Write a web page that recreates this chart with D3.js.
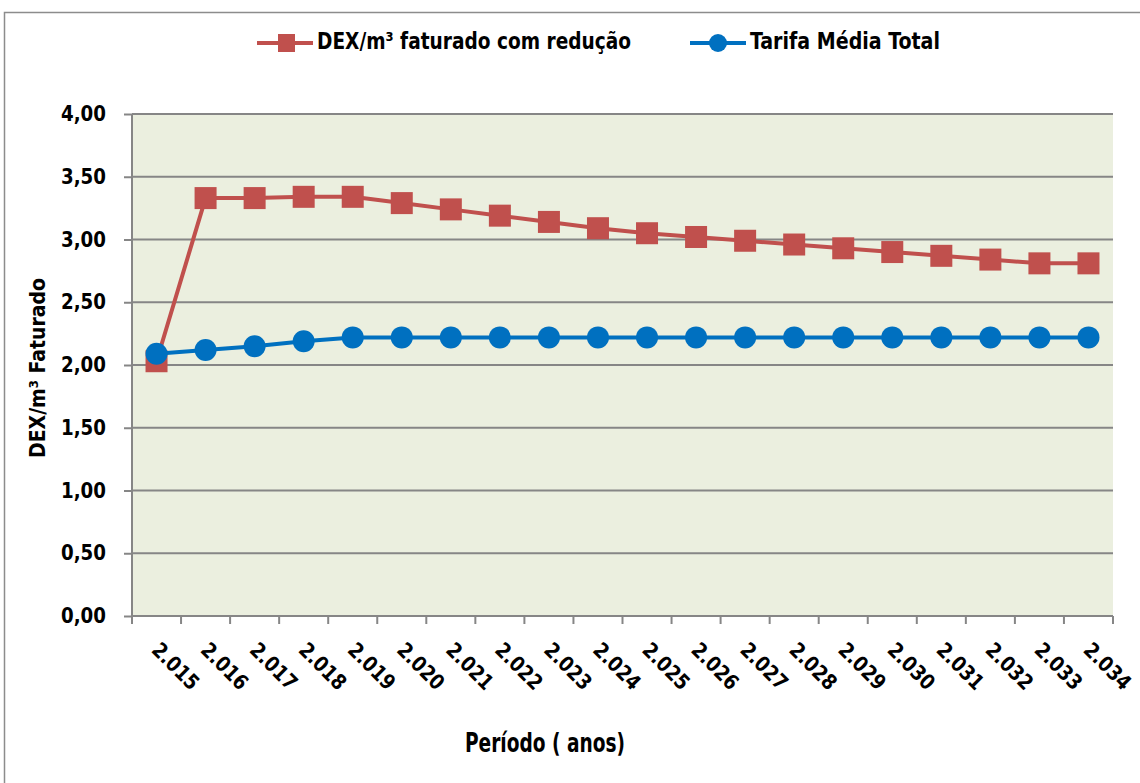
<!DOCTYPE html>
<html>
<head>
<meta charset="utf-8">
<script src="https://cdn.jsdelivr.net/npm/d3@7"></script>
<style>
  body { margin: 0; background: #fff; }
  text { font-family: "Liberation Sans Narrow", "DejaVu Sans Condensed", "Roboto", sans-serif; font-weight: bold; fill: #000; }
</style>
</head>
<body>
<div id="chart"></div>
<script>
// data
var years = ["2.015","2.016","2.017","2.018","2.019","2.020","2.021","2.022","2.023","2.024",
             "2.025","2.026","2.027","2.028","2.029","2.030","2.031","2.032","2.033","2.034"];
var dexValues = [2.03, 3.33, 3.33, 3.34, 3.34, 3.29, 3.24, 3.19, 3.14, 3.09,
                 3.05, 3.02, 2.99, 2.96, 2.93, 2.90, 2.87, 2.84, 2.81, 2.81];
var tarifaValues = [2.09, 2.12, 2.15, 2.19, 2.22, 2.22, 2.22, 2.22, 2.22, 2.22,
                    2.22, 2.22, 2.22, 2.22, 2.22, 2.22, 2.22, 2.22, 2.22, 2.22];
var yTicks = [0, 0.5, 1, 1.5, 2, 2.5, 3, 3.5, 4];
var seriesNames = ["DEX/m³ faturado com redução", "Tarifa Média Total"];

var W = 1140, H = 783;
var margin = {top: 114, right: 27, bottom: 167, left: 132},
    width = W - margin.left - margin.right,
    height = H - margin.top - margin.bottom;

var red = "#C0504D", blue = "#0070C0", grid = "#868686";

var svg = d3.select("#chart").append("svg")
    .attr("width", W).attr("height", H);

// outer frame
svg.append("rect")
    .attr("x", 4.5).attr("y", 12.5)
    .attr("width", W + 10).attr("height", H + 10)
    .attr("fill", "none").attr("stroke", "#8c8c8c").attr("stroke-width", 1.5);

var g = svg.append("g")
    .attr("transform", "translate(" + margin.left + "," + margin.top + ")");

var x = d3.scaleBand().domain(years).range([0, width]);
var y = d3.scaleLinear().domain([0, 4]).range([height, 0]);

g.append("rect")
    .attr("width", width).attr("height", height)
    .attr("fill", "#EBEFDF");

// gridlines
g.append("g")
    .selectAll("line")
    .data(yTicks)
    .join("line")
    .attr("x1", 0).attr("x2", width)
    .attr("y1", function(d) { return y(d); })
    .attr("y2", function(d) { return y(d); })
    .attr("stroke", grid).attr("stroke-width", 2);

// Y axis
var yAxis = g.append("g")
    .call(d3.axisLeft(y).tickValues(yTicks).tickSize(8).tickPadding(18)
        .tickFormat(function(d) { return d3.format(".2f")(d).replace(".", ","); }));
yAxis.attr("font-family", null).attr("font-size", null);
yAxis.selectAll("path, line").attr("stroke", grid).attr("stroke-width", 2);
yAxis.select(".domain").attr("d", "M0," + y(4) + "V" + y(0));
yAxis.selectAll("text").style("font-size", "21px").attr("fill", "#000")
    .attr("textLength", 45).attr("lengthAdjust", "spacingAndGlyphs");

// X axis, ticks at band edges
var edges = years.map(function(d) { return x(d); }).concat([width]);
var xAxis = g.append("g").attr("transform", "translate(0," + height + ")");
xAxis.append("line").attr("x1", 0).attr("x2", width)
    .attr("stroke", grid).attr("stroke-width", 2);
xAxis.selectAll(".tk").data(edges).join("line").attr("class", "tk")
    .attr("x1", function(d) { return d; }).attr("x2", function(d) { return d; })
    .attr("y1", 0).attr("y2", 8)
    .attr("stroke", grid).attr("stroke-width", 2);
xAxis.selectAll(".lbl").data(years).join("text").attr("class", "lbl")
    .attr("transform", function(d) {
        return "translate(" + (x(d) + x.bandwidth() / 2 + 5) + ",24) rotate(45)";
    })
    .attr("dy", "0.75em")
    .style("font-size", "21px")
    .attr("textLength", 57).attr("lengthAdjust", "spacingAndGlyphs")
    .text(function(d) { return d; });

// axis titles
svg.append("text")
    .attr("x", 545).attr("y", 752)
    .attr("text-anchor", "middle").style("font-size", "26px")
    .attr("textLength", 160).attr("lengthAdjust", "spacingAndGlyphs")
    .text("Período ( anos)");
svg.append("text")
    .attr("transform", "translate(45,368) rotate(-90)")
    .attr("text-anchor", "middle").style("font-size", "21px")
    .attr("textLength", 180).attr("lengthAdjust", "spacingAndGlyphs")
    .text("DEX/m³ Faturado");

// lines
var line = d3.line()
    .x(function(d, i) { return x(years[i]) + x.bandwidth() / 2; })
    .y(function(d) { return y(d); });

g.append("path").datum(dexValues)
    .attr("fill", "none").attr("stroke", red).attr("stroke-width", 4)
    .attr("d", line);
g.selectAll(".sq").data(dexValues).join("rect").attr("class", "sq")
    .attr("x", function(d, i) { return x(years[i]) + x.bandwidth() / 2 - 11; })
    .attr("y", function(d) { return y(d) - 11; })
    .attr("width", 22).attr("height", 22)
    .attr("fill", red);

g.append("path").datum(tarifaValues)
    .attr("fill", "none").attr("stroke", blue).attr("stroke-width", 4)
    .attr("d", line);
g.selectAll(".dot").data(tarifaValues).join("circle").attr("class", "dot")
    .attr("cx", function(d, i) { return x(years[i]) + x.bandwidth() / 2; })
    .attr("cy", function(d) { return y(d); })
    .attr("r", 11)
    .attr("fill", blue);

// legend
var legend = svg.append("g").attr("transform", "translate(0,43)");
var legItems = [
    {name: seriesNames[0], color: red, x: 257, shape: "square", len: 314},
    {name: seriesNames[1], color: blue, x: 690, shape: "circle", len: 190}
];
legItems.forEach(function(it) {
    var lg = legend.append("g").attr("transform", "translate(" + it.x + ",0)");
    lg.append("line").attr("x1", 0).attr("x2", 56)
        .attr("stroke", it.color).attr("stroke-width", 4);
    if (it.shape == "square") {
        lg.append("rect").attr("x", 21).attr("y", -9).attr("width", 17).attr("height", 18)
            .attr("fill", it.color);
    } else {
        lg.append("circle").attr("cx", 28).attr("r", 9).attr("fill", it.color);
    }
    lg.append("text").attr("x", 60).attr("y", -2).attr("dy", "0.35em")
        .style("font-size", "23px")
        .attr("textLength", it.len).attr("lengthAdjust", "spacingAndGlyphs")
        .text(it.name);
});
</script>
</body>
</html>
